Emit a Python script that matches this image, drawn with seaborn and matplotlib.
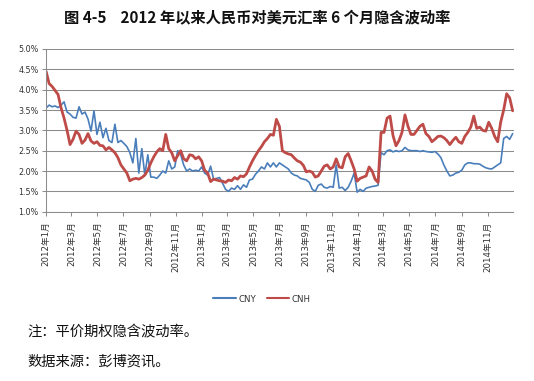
import matplotlib
matplotlib.use("Agg")
import matplotlib.pyplot as plt
import matplotlib.dates as mdates
from matplotlib.ticker import FuncFormatter
from matplotlib.lines import Line2D
import pandas as pd
import seaborn as sns

# ---- data (weekly readings, % implied volatility) ----
start_date = "2012-01-02"
n_weeks = 157

cnh = [4.45, 4.15, 4.08, 3.98, 3.88, 3.55, 3.30, 3.00, 2.65, 2.78,
       2.98, 2.90, 2.68, 2.76, 2.92, 2.74, 2.68, 2.72, 2.63, 2.62,
       2.52, 2.58, 2.52, 2.45, 2.33, 2.15, 2.05, 1.95, 1.76, 1.80,
       1.82, 1.80, 1.84, 1.90, 2.02, 2.20, 2.35, 2.47, 2.55, 2.50,
       2.90, 2.55, 2.45, 2.25, 2.38, 2.50, 2.30, 2.25, 2.40, 2.38,
       2.30, 2.35, 2.25, 2.02, 1.95, 1.74, 1.80, 1.78, 1.76, 1.75,
       1.72, 1.78, 1.76, 1.84, 1.80, 1.88, 1.86, 1.93, 2.10, 2.25,
       2.38, 2.50, 2.60, 2.72, 2.80, 2.90, 2.88, 3.27, 3.10, 2.50,
       2.45, 2.42, 2.40, 2.32, 2.25, 2.22, 2.14, 1.98, 2.00, 1.97,
       1.85, 1.88, 2.00, 2.12, 2.15, 2.05, 2.10, 2.30, 2.10, 2.08,
       2.35, 2.43, 2.25, 2.05, 1.75, 1.82, 1.85, 1.88, 2.10, 2.00,
       1.80, 1.72, 2.95, 2.95, 3.30, 3.35, 2.87, 2.62, 2.75, 2.95,
       3.38, 3.10, 2.90, 2.90, 3.00, 3.10, 3.15, 2.92, 2.85, 2.72,
       2.78, 2.85, 2.86, 2.82, 2.75, 2.65, 2.75, 2.83, 2.72, 2.68,
       2.85, 2.95, 3.08, 3.35, 3.05, 3.08, 3.00, 2.98, 3.20, 3.05,
       2.85, 2.72, 3.20, 3.50, 3.90, 3.80, 3.48]

cny = [3.55, 3.62, 3.58, 3.60, 3.56, 3.62, 3.70, 3.45, 3.40, 3.32,
       3.30, 3.58, 3.40, 3.45, 3.28, 2.98, 3.48, 2.90, 3.20, 2.82,
       3.05, 2.75, 2.70, 3.15, 2.70, 2.75, 2.68, 2.60, 2.45, 2.20,
       2.80, 1.95, 2.55, 1.90, 2.40, 1.85, 1.85, 1.82, 1.90, 2.00,
       1.95, 2.25, 2.05, 2.10, 2.50, 2.40, 2.15, 2.00, 2.05, 2.00,
       2.02, 2.00, 2.10, 1.95, 1.90, 2.12, 1.80, 1.82, 1.84, 1.70,
       1.55, 1.50, 1.58, 1.55, 1.64, 1.55, 1.66, 1.60, 1.78, 1.80,
       1.92, 2.00, 2.10, 2.05, 2.20, 2.10, 2.20, 2.10, 2.20, 2.15,
       2.10, 2.05, 1.95, 1.90, 1.88, 1.82, 1.80, 1.78, 1.72, 1.55,
       1.50, 1.65, 1.68, 1.60, 1.58, 1.62, 1.60, 2.15, 1.58, 1.60,
       1.52, 1.60, 1.75, 1.95, 1.48, 1.55, 1.50, 1.58, 1.60, 1.62,
       1.63, 1.65, 2.45, 2.40, 2.50, 2.52, 2.47, 2.50, 2.48, 2.50,
       2.58, 2.52, 2.50, 2.50, 2.50, 2.48, 2.50, 2.48, 2.47, 2.46,
       2.48, 2.42, 2.33, 2.15, 2.00, 1.88, 1.90, 1.95, 1.97, 2.02,
       2.15, 2.20, 2.20, 2.18, 2.18, 2.17, 2.12, 2.08, 2.06, 2.05,
       2.10, 2.15, 2.20, 2.80, 2.85, 2.78, 2.92]

series_names = ["CNY", "CNH"]
series_colors = {"CNY": "#4A7EBB", "CNH": "#BE4B48"}
y_ticks = [1.0, 1.5, 2.0, 2.5, 3.0, 3.5, 4.0, 4.5, 5.0]

title = "图 4-5    2012 年以来人民币对美元汇率 6 个月隐含波动率"
note1 = "注：平价期权隐含波动率。"
note2 = "数据来源：彭博资讯。"

dates = pd.date_range(start_date, periods=n_weeks, freq="7D")
df = pd.concat([
    pd.DataFrame({"date": dates, "value": cny, "series": "CNY"}),
    pd.DataFrame({"date": dates, "value": cnh, "series": "CNH"}),
], ignore_index=True)

sns.set_theme(style="white")
plt.rcParams["font.family"] = ["DejaVu Sans", "Noto Sans CJK SC"]

fig = plt.figure(figsize=(5.34, 3.81), dpi=100)
ax = fig.add_axes([45.7 / 534, 1 - 211.7 / 381, (513.5 - 45.7) / 534, (211.7 - 49) / 381])

sns.lineplot(data=df, x="date", y="value", hue="series", hue_order=series_names,
             palette=series_colors, ax=ax, legend=False, estimator=None)
for line, name in zip(ax.get_lines(), series_names):
    line.set_linewidth(1.2 if name == "CNY" else 2.0)
    line.set_solid_joinstyle("round")

ax.set_xlim(pd.Timestamp("2012-01-01"), pd.Timestamp("2014-12-31"))
ax.set_ylim(1.0, 5.0)
ax.set_yticks(y_ticks)
ax.yaxis.set_major_formatter(FuncFormatter(lambda v, p: f"{v:.1f}%"))
ax.xaxis.set_major_locator(mdates.MonthLocator(bymonth=[1, 3, 5, 7, 9, 11]))

def fmt_date(x, pos):
    d = mdates.num2date(x)
    return f"{d.year}年{d.month}月"

ax.xaxis.set_major_formatter(FuncFormatter(fmt_date))
ax.set_xlabel("")
ax.set_ylabel("")
ax.grid(axis="y", color="#8C8C8C", linewidth=0.75)
ax.set_axisbelow(True)
for s in ["top", "right"]:
    ax.spines[s].set_visible(False)
for s in ["left", "bottom"]:
    ax.spines[s].set_color("#8C8C8C")
    ax.spines[s].set_linewidth(0.75)

ax.tick_params(axis="y", which="major", length=3, width=0.75, color="#8C8C8C",
               labelsize=5.8, labelcolor="#333333", pad=2, left=True)
ax.tick_params(axis="x", which="major", length=3, width=0.75, color="#8C8C8C",
               labelsize=6.2, labelcolor="#333333", pad=4, bottom=True)
for lab in ax.get_xticklabels():
    lab.set_rotation(90)
    lab.set_va("top")
    lab.set_ha("center")

handles = [Line2D([], [], color=series_colors[n], linewidth=1.5) for n in series_names]
fig.legend(handles, series_names, loc="center", bbox_to_anchor=(262 / 534, 1 - 299 / 381),
           ncol=2, frameon=False, fontsize=6.2, handlelength=2.6, handletextpad=0.3,
           columnspacing=1.2, labelcolor="#333333")

fig.text(257 / 534, 1 - 18 / 381, title, ha="center", va="center", fontsize=11,
         fontweight="bold", family=["Noto Sans CJK SC", "DejaVu Sans"], color="#111111")
fig.text(27 / 534, 1 - 332 / 381, note1, ha="left", va="center", fontsize=10.3,
         family=["Noto Sans CJK SC", "DejaVu Sans"], color="#111111")
fig.text(27 / 534, 1 - 362 / 381, note2, ha="left", va="center", fontsize=10.3,
         family=["Noto Sans CJK SC", "DejaVu Sans"], color="#111111")

fig.savefig("out.png", dpi=100, facecolor="white")
